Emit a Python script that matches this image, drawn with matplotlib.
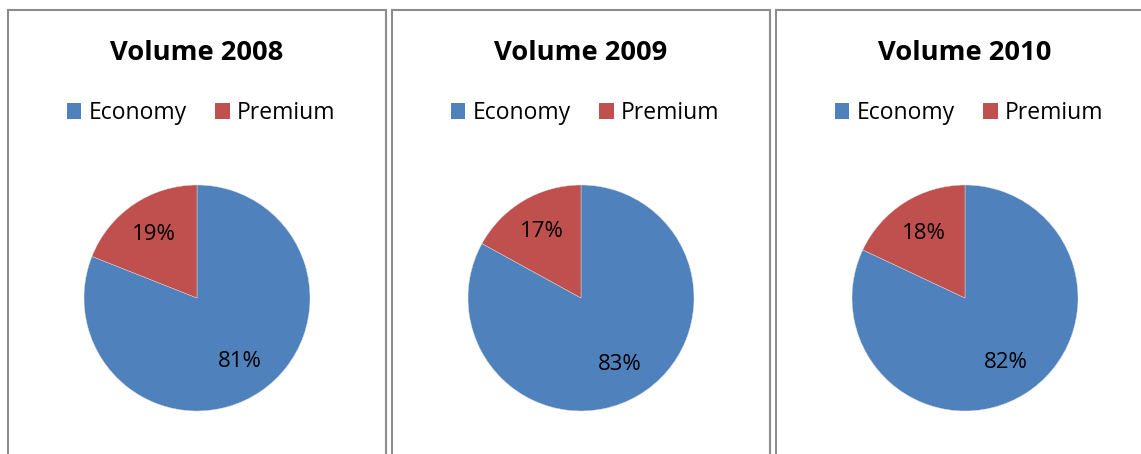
import matplotlib
matplotlib.use("Agg")
import matplotlib.pyplot as plt
from matplotlib.patches import Rectangle, Patch

plt.rcParams['font.family'] = ['Open Sans', 'DejaVu Sans']

years = ["2008", "2009", "2010"]
segments = ["Economy", "Premium"]
economy = [81, 83, 82]
premium = [19, 17, 18]
colors = ["#4f81bd", "#c0504d"]

W, H = 1141, 454
fig = plt.figure(figsize=(W / 100, H / 100), dpi=100)

# panel frames (pixels: left, right)
panels = [(8, 386), (392, 770), (776, 1160)]
centers = [197, 581, 965]
cy = 298
r = 113

for (x0, x1), cx, year, e, p in zip(panels, centers, years, economy, premium):
    fig.patches.append(Rectangle((x0 / W, -0.1), (x1 - x0) / W, (H - 10) / H + 0.1,
                                 transform=fig.transFigure, fill=False,
                                 edgecolor="#8c8c8c", linewidth=1.5))
    ax = fig.add_axes([(cx - r) / W, (H - cy - r) / H, 2 * r / W, 2 * r / H])
    ax.pie([e, p], colors=colors, startangle=90, counterclock=False,
           autopct="%1.0f%%", pctdistance=0.68,
           textprops={"fontsize": 16, "color": "black"},
           wedgeprops={"linewidth": 0.3, "edgecolor": "#e0e0e0"})
    ax.set_xlim(-1, 1)
    ax.set_ylim(-1, 1)
    ax.set_aspect("equal")
    ax.axis("off")

    fig.text(cx / W, 1 - 53 / H, "Volume " + year, ha="center", va="center",
             fontsize=19.7, fontweight="bold")
    handles = [Patch(facecolor=c, label=s) for c, s in zip(colors, segments)]
    fig.legend(handles=handles, loc="center", bbox_to_anchor=((cx + 4) / W, 1 - 113 / H),
               ncol=2, frameon=False, fontsize=16.5, handlelength=0.65,
               handleheight=0.65, handletextpad=0.3, columnspacing=1.25)

fig.savefig("out.png", dpi=100)
